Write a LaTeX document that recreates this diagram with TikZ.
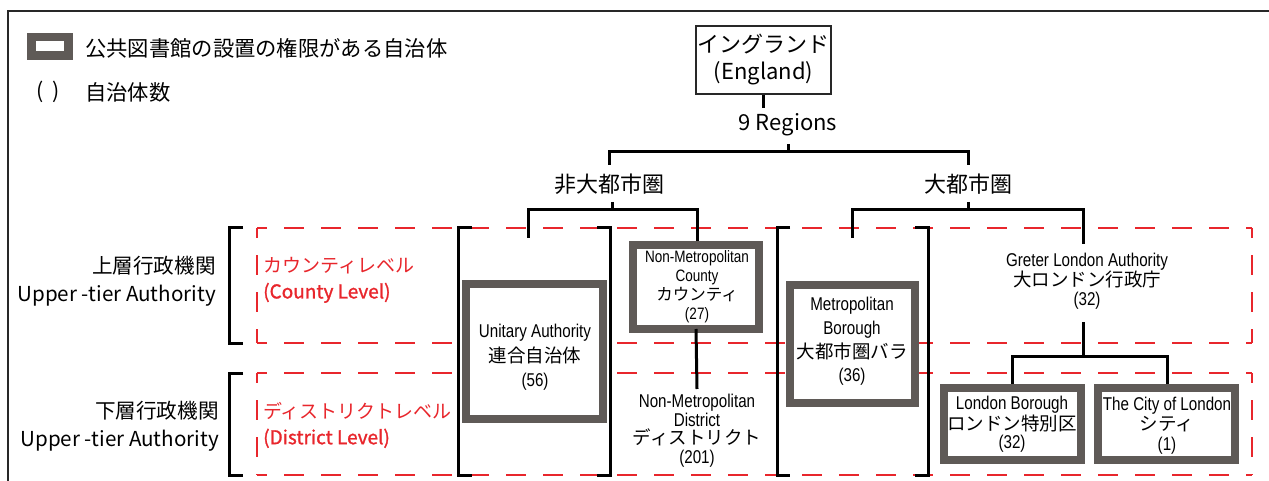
\documentclass[tikz,border=0pt]{standalone}
\usepackage{fontspec}
\setmainfont{Noto Sans CJK JP}
\newfontfamily\nar[FakeStretch=0.82]{Liberation Sans}
\newfontfamily\redb[FakeBold=1.3]{Noto Sans CJK JP}
\definecolor{boxgray}{RGB}{95,90,87}
\definecolor{lvlred}{RGB}{232,38,44}
\definecolor{framegray}{RGB}{40,40,40}
\tikzset{
  conn/.style={line width=3pt, draw=black},
  brk/.style={line width=3pt, draw=black},
  reddash/.style={draw=lvlred, line width=2pt, dash pattern=on 20pt off 17pt, dash phase=10pt},
  libbox/.style={draw=boxgray, fill=white, line width=8pt, inner sep=0pt, outer sep=0pt},
  boxtxt/.style={align=center, inner sep=0pt, font=\fontsize{18.5}{24}\selectfont},
  lvltxt/.style={inner sep=0pt, font=\fontsize{22}{27}\selectfont},
  redtxt/.style={inner sep=0pt, align=left, anchor=west, text=lvlred, font=\fontsize{19}{26}\selectfont},
  sidetxt/.style={inner sep=0pt, align=right, anchor=east, font=\fontsize{20.6}{27.5}\selectfont},
  legtext/.style={inner sep=0pt, anchor=west, font=\fontsize{21.3}{24}\selectfont},
}
\begin{document}
\begin{tikzpicture}[x=1pt,y=-1pt]
\useasboundingbox (0,0) rectangle (1269,481);
% frame
\draw[line width=1.5pt, framegray] (1269,11) -- (8,11) -- (8,481);

% red dashed level bands
\coordinate (ua) at (257,228); \coordinate (ub) at (1252,228);
\coordinate (uc) at (1252,343); \coordinate (ud) at (257,343);
\coordinate (la) at (257,373); \coordinate (lb) at (1252,373);
\coordinate (lc) at (1252,475); \coordinate (ld) at (257,475);
\draw[reddash] (ua) -- (ub); \draw[reddash] (ub) -- (uc);
\draw[reddash] (ud) -- (uc); \draw[reddash] (ua) -- (ud);
\draw[reddash] (la) -- (lb); \draw[reddash] (lb) -- (lc);
\draw[reddash] (ld) -- (lc); \draw[reddash] (la) -- (ld);

% legend
\node[libbox, line width=8.5pt, minimum width=37pt, minimum height=18.5pt] (leg) at (50,46.5) {};
\node[legtext] (legtxt) at (85,48) {公共図書館の設置の権限がある自治体};
\node[inner sep=0pt, font=\fontsize{21.3}{24}\selectfont] (paren) at (48.5,92) {(\hspace{9pt})};
\node[legtext] (partxt) at (85,92) {自治体数};

% top of tree
\node[draw=framegray, line width=1.5pt, minimum width=135pt, minimum height=68pt, inner sep=0pt,
      align=center, font=\fontsize{22}{27}\selectfont] (eng) at (763.5,60) {イングランド\\(England)};
\coordinate (engstub) at (763.5,108);
\draw[conn] (eng.south) -- (engstub);
\node[lvltxt] (regions) at (788,125) {9 Regions};
\node[lvltxt] (nonmet) at (609,184) {非大都市圏};
\node[lvltxt] (met) at (968,184) {大都市圏};

\coordinate (r9a) at (788,144); \coordinate (r9b) at (788,152);
\coordinate (nmTop) at (609,165); \coordinate (mTop) at (968,165);
\draw[conn] (r9a) -- (r9b);
\draw[conn] (nmTop) |- (r9b) -| (mTop);

% side labels
\node[sidetxt] (upper) at (216,281) {上層行政機関\\Upper -tier Authority};
\node[sidetxt] (lower) at (219,426) {下層行政機関\\Upper -tier Authority};
\node[redtxt] (cty) at (263,280) {カウンティレベル\\{\redb (County Level)}};
\node[redtxt] (dst) at (263,425) {ディストリクトレベル\\{\redb (District Level)}};

% brackets
\draw[brk] (243,228) -- (229,228) -- (229,343) -- (243,343);
\draw[brk] (243,373) -- (229,373) -- (229,475) -- (243,475);
\draw[brk] (472,228) -- (458,228) -- (458,475) -- (472,475);
\draw[brk] (597,228) -- (610,228) -- (610,475) -- (597,475);
\draw[brk] (790,228) -- (777,228) -- (777,475) -- (790,475);
\draw[brk] (915,228) -- (928,228) -- (928,475) -- (915,475);

% non-metropolitan branch
\coordinate (nmA) at (612,202); \coordinate (nmB) at (612,210);
\coordinate (uaTop) at (528,238); \coordinate (ccTop) at (697,245);
\draw[conn] (nmA) -- (nmB);
\draw[conn] (uaTop) |- (nmB) -| (ccTop);

% metropolitan branch
\coordinate (mA) at (968,202); \coordinate (mB) at (968,210);
\coordinate (mbTop) at (852,238); \coordinate (glaTop) at (1083,244);
\draw[conn] (mA) -- (mB);
\draw[conn] (mbTop) |- (mB) -| (glaTop);

% boxes
\node[libbox, minimum width=137pt, minimum height=135pt] (unit) at (534.5,351.5) {};
\node[libbox, minimum width=126pt, minimum height=84pt] (county) at (696,287) {};
\coordinate (distTop) at (697,389);
\draw[conn] (county.south) -- (distTop);
\node[libbox, minimum width=125pt, minimum height=118pt] (mbor) at (852.5,344) {};

% GLA branch
\coordinate (glaA) at (1083,322); \coordinate (glaB) at (1083,356);
\draw[conn] (glaA) -- (glaB);
\coordinate (lbTop) at (1012,384); \coordinate (ciTop) at (1167,384);
\draw[conn] (lbTop) |- (glaB) -| (ciTop);
\node[libbox, minimum width=137pt, minimum height=72pt] (lbor) at (1012.5,424) {};
\node[libbox, minimum width=137pt, minimum height=72pt] (city) at (1166.5,424) {};

% texts
\node[boxtxt, font=\fontsize{18.5}{24.5}\selectfont] (unittxt) at (535,357.5)
  {{\nar Unitary Authority}\\連合自治体\\{\nar (56)}};
\node[boxtxt, font=\fontsize{16.5}{19}\selectfont] (countytxt) at (697,286.5)
  {{\nar Non-Metropolitan}\\{\nar County}\\カウンティ\\{\nar (27)}};
\node[boxtxt, font=\fontsize{18.5}{18.5}\selectfont] (disttxt) at (697,430.5)
  {{\nar Non-Metropolitan}\\{\nar District}\\ディストリクト\\{\nar (201)}};
\node[boxtxt, font=\fontsize{18.5}{23.7}\selectfont] (mbortxt) at (852,341.5)
  {{\nar Metropolitan}\\{\nar Borough}\\大都市圏バラ\\{\nar (36)}};
\node[boxtxt, font=\fontsize{18.5}{19}\selectfont] (glatxt) at (1087,281)
  {{\nar Greter London Authority}\\大ロンドン行政庁\\{\nar (32)}};
\node[boxtxt, font=\fontsize{18.5}{18.5}\selectfont] (lbortxt) at (1012,424.5)
  {{\nar London Borough}\\ロンドン特別区\\{\nar (32)}};
\node[boxtxt, font=\fontsize{18.5}{20}\selectfont] (citytxt) at (1167,426)
  {{\nar The City of London}\\シティ\\{\nar (1)}};
\end{tikzpicture}
\end{document}
